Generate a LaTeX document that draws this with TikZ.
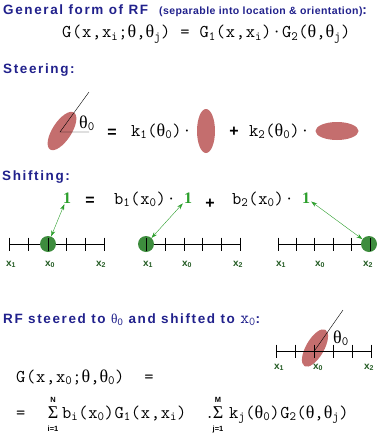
\documentclass[tikz,border=0pt]{standalone}
\usepackage{fontspec}
\setmainfont{Liberation Sans}
\newfontfamily\headfont[LetterSpace=12]{Liberation Sans}
\newfontfamily\subfont[LetterSpace=4]{Liberation Sans}
\newfontfamily\eqfont[LetterSpace=4]{Latin Modern Mono}
\newfontfamily\grkfont{Liberation Serif}
\usetikzlibrary{shapes,arrows,arrows.meta}
\definecolor{headblue}{rgb}{0.13, 0.13, 0.55}
\definecolor{rfred}{rgb}{0.77, 0.43, 0.43}
\definecolor{dotgreen}{rgb}{0.24, 0.55, 0.24}
\definecolor{argreen}{rgb}{0.17, 0.62, 0.17}
\definecolor{labgreen}{rgb}{0.14, 0.36, 0.14}
\newcommand{\tht}{{\grkfont θ}}
\newcommand{\sig}{{\grkfont Σ}}
\tikzstyle{heading}=[inner sep=0pt, text=headblue, font=\headfont\bfseries\fontsize{13.5}{14}\selectfont]
\tikzstyle{subhead}=[inner sep=0pt, text=headblue, font=\subfont\bfseries\fontsize{10.5}{11}\selectfont]
\tikzstyle{eqn}=[inner sep=0pt, font=\eqfont\fontsize{18}{18}\selectfont]
\tikzstyle{sym}=[inner sep=0pt, font=\bfseries\fontsize{16}{16}\selectfont]
\tikzstyle{lim}=[inner sep=0pt, anchor=base, font=\bfseries\fontsize{7.5}{8}\selectfont]
\tikzstyle{rf}=[ellipse, fill=rfred, inner sep=0pt]
\tikzstyle{gdot}=[circle, fill=dotgreen, inner sep=0pt, minimum size=16]
\tikzstyle{onelab}=[inner sep=1pt, anchor=base, text=argreen, font=\grkfont\bfseries\fontsize{16}{16}\selectfont]
\tikzstyle{xlab}=[inner sep=0pt, anchor=base, text=labgreen, font=\bfseries\fontsize{10}{10}\selectfont]
\tikzstyle{shiftarrow}=[argreen, thin, {Stealth[length=6pt,width=4pt]}-{Stealth[length=6pt,width=4pt]}]
\tikzstyle{axis}=[black, line width=0.8pt]

\begin{document}
\begin{tikzpicture}[x=1pt,y=-1pt]
\useasboundingbox (0,0) rectangle (381,434);

\node[heading, anchor=base west] (title) at (3,14.5) {General form of RF};
\node[subhead, anchor=base west] (sub) at (159,14.5) {(separable into location \& orientation)\fontsize{13.5}{14}\selectfont:};
\node[eqn, anchor=base west] (geq) at (62,37.5) {G(x,x\textsubscript{i};\tht,\tht\textsubscript{j})~=~G\textsubscript{1}(x,x\textsubscript{i})·G\textsubscript{2}(\tht,\tht\textsubscript{j})};

\node[heading, anchor=base west] (steer) at (3,73) {Steering:};
\node[rf, minimum width=44, minimum height=19, rotate=57] (e0) at (62,131) {};
\coordinate (c0) at (60,132);
\coordinate (t0) at (89,92);
\coordinate (h0) at (89,132);
\draw (t0) -- (c0) -- (h0);
\node[eqn, anchor=base west] (th0) at (79,128) {\tht\textsubscript{0}};
\node[sym] (eq1) at (112,133) {=};
\node[eqn, anchor=base west] (k1) at (131,136) {k\textsubscript{1}(\tht\textsubscript{0})·};
\node[rf, minimum width=18, minimum height=44] (e1) at (206,131) {};
\node[sym] (pl1) at (234,132) {+};
\node[eqn, anchor=base west] (k2) at (249,136) {k\textsubscript{2}(\tht\textsubscript{0})·};
\node[rf, minimum width=43, minimum height=18] (e2) at (337,131) {};

\node[heading, anchor=base west] (shift) at (2,180) {Shifting:};
\draw[axis] (9,244) -- (104,244);
\foreach \x in {9,28,47,66,85,104} \draw[axis] (\x,237.5) -- (\x,250.5);
\draw[axis] (146,244) -- (240,244);
\foreach \x in {146,165,184,202,221,240} \draw[axis] (\x,237.5) -- (\x,250.5);
\draw[axis] (278,244) -- (370,244);
\foreach \x in {278,296.4,314.8,333.2,351.6,370} \draw[axis] (\x,237.5) -- (\x,250.5);
\node[gdot] (dA) at (48,244) {};
\node[gdot] (dB) at (146,244) {};
\node[gdot] (dC) at (369,244) {};
\draw[axis] (48,237.5) -- (48,250.5);
\draw[axis] (146,237.5) -- (146,250.5);
\draw[axis] (370,237.5) -- (370,250.5);
\node[onelab] (o1) at (67,203) {1};
\node[sym] (eq2) at (90,201) {=};
\node[eqn, anchor=base west] (b1) at (114,204) {b\textsubscript{1}(x\textsubscript{0})·};
\node[onelab] (o2) at (188,203) {1};
\node[sym] (pl2) at (210,204) {+};
\node[eqn, anchor=base west] (b2) at (232,204) {b\textsubscript{2}(x\textsubscript{0})·};
\node[onelab] (o3) at (306,203) {1};
\draw[shiftarrow] (o1) -- (dA);
\draw[shiftarrow] (o2) -- (dB);
\draw[shiftarrow] (o3) -- (dC);
\node[xlab] (a1) at (11,266) {x\textsubscript{1}};
\node[xlab] (a0) at (50,266) {x\textsubscript{0}};
\node[xlab] (a2) at (101,266) {x\textsubscript{2}};
\node[xlab] (b1l) at (148,266) {x\textsubscript{1}};
\node[xlab] (b0l) at (187,266) {x\textsubscript{0}};
\node[xlab] (b2l) at (238,266) {x\textsubscript{2}};
\node[xlab] (c1l) at (281,266) {x\textsubscript{1}};
\node[xlab] (c0l) at (320,266) {x\textsubscript{0}};
\node[xlab] (c2l) at (368,266) {x\textsubscript{2}};

\node[heading, anchor=base west] (rfst) at (3,323) {RF steered to {\mdseries\tht\textsubscript{0}} and shifted to {\eqfont\mdseries\fontsize{17}{17}\selectfont x\textsubscript{0}}:};
\node[rf, minimum width=42, minimum height=18, rotate=60] (e3) at (315,348) {};
\draw[axis] (276,351) -- (371,351);
\foreach \x in {276,295,314,333,352,371} \draw[axis] (\x,344.5) -- (\x,357.5);
\coordinate (c3) at (315,350);
\coordinate (t3) at (343,310);
\draw (c3) -- (t3);
\node[eqn, anchor=base west] (th3) at (333,343) {\tht\textsubscript{0}};
\node[xlab] (d1l) at (279,369) {x\textsubscript{1}};
\node[xlab] (d0l) at (318,369) {x\textsubscript{0}};
\node[xlab] (d2l) at (369,369) {x\textsubscript{2}};

\node[eqn, anchor=base west] (gfin) at (16,382) {G(x,x\textsubscript{0};\tht,\tht\textsubscript{0})~~=};
\node[eqn, anchor=base west] (eqs) at (16,418) {=};
\node[eqn, anchor=base] (sig1) at (53,418) {\sig};
\node[lim] (n1) at (53,402) {N};
\node[lim] (i1) at (53,431) {i=1};
\node[eqn, anchor=base west] (bsum) at (62,418) {b\textsubscript{i}(x\textsubscript{0})G\textsubscript{1}(x,x\textsubscript{i})};
\node[eqn, anchor=base west] (dotp) at (205,418) {.};
\node[eqn, anchor=base] (sig2) at (218,418) {\sig};
\node[lim] (m2) at (218,402) {M};
\node[lim] (j2) at (218,431) {j=1};
\node[eqn, anchor=base west] (ksum) at (229,418) {k\textsubscript{j}(\tht\textsubscript{0})G\textsubscript{2}(\tht,\tht\textsubscript{j})};
\end{tikzpicture}
\end{document}
